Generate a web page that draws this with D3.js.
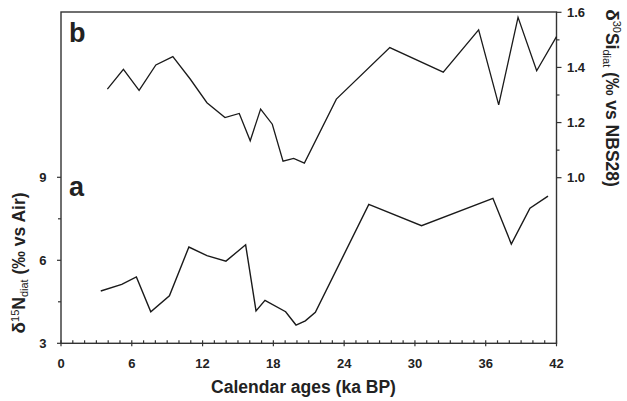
<!DOCTYPE html>
<html>
<head>
<meta charset="utf-8">
<script src="https://cdn.jsdelivr.net/npm/d3@7"></script>
<style>
  html, body { margin: 0; padding: 0; background: #fff; }
  svg { display: block; }
  text { font-family: "Liberation Sans", Arial, sans-serif; font-weight: bold; fill: #222; }
</style>
</head>
<body>
<svg id="chart" width="627" height="401"></svg>
<script>
// Panel b: diatom silicon isotopes (right axis)
const siAges   = [3.93, 5.29, 6.62, 8.04, 9.48, 10.95, 12.37, 13.9, 15.11, 16.04, 16.92, 17.91, 18.82, 19.72, 20.63, 23.34, 27.87, 32.4, 35.4, 37.1, 38.74, 40.32, 42.0];
const siValues = [1.321, 1.393, 1.317, 1.409, 1.439, 1.358, 1.272, 1.218, 1.233, 1.134, 1.249, 1.194, 1.060, 1.070, 1.053, 1.285, 1.472, 1.383, 1.536, 1.264, 1.582, 1.388, 1.512];

// Panel a: diatom nitrogen isotopes (left axis)
const nAges   = [3.37, 5.15, 6.39, 7.61, 9.19, 10.84, 12.37, 13.98, 15.65, 16.53, 17.29, 19.04, 19.92, 20.71, 21.56, 26.09, 30.56, 36.61, 38.17, 39.75, 41.28];
const nValues = [4.89, 5.13, 5.40, 4.14, 4.72, 6.48, 6.17, 5.97, 6.56, 4.17, 4.55, 4.14, 3.66, 3.81, 4.12, 8.02, 7.25, 8.24, 6.59, 7.88, 8.32];

const xTicks  = [0, 6, 12, 18, 24, 30, 36, 42];
const nTicks  = [3, 6, 9];
const nMinor  = [4.5, 7.5];
const siTicks = [1.0, 1.2, 1.4, 1.6];
const siMinor = [1.1, 1.3, 1.5];

const svg = d3.select("#chart");
const axisColor = "#333";

const x   = d3.scaleLinear().domain([0, 42]).range([61, 556.5]);
const yN  = d3.scaleLinear().domain([3, 9]).range([343.3, 177.3]);
const ySi = d3.scaleLinear().domain([1.0, 1.6]).range([177.7, 12.3]);

const frameTop = 12, frameBottom = 343.3;

// Frame
svg.append("rect")
  .attr("x", x(0)).attr("y", frameTop)
  .attr("width", x(42) - x(0)).attr("height", frameBottom - frameTop)
  .attr("fill", "none").attr("stroke", axisColor).attr("stroke-width", 1.4);

// Bottom axis: major ticks crossing the line, minor ticks every 1 ka inside
const xMinor = d3.range(0, 43, 1).filter(v => v % 6 !== 0);
const bx = svg.append("g").attr("stroke", axisColor).attr("stroke-width", 1.2);
bx.selectAll("line.maj").data(xTicks).join("line").attr("class", "maj")
  .attr("x1", d => x(d)).attr("x2", d => x(d))
  .attr("y1", frameBottom - 3).attr("y2", frameBottom + 3);
bx.selectAll("line.min").data(xMinor).join("line").attr("class", "min")
  .attr("x1", d => x(d)).attr("x2", d => x(d))
  .attr("y1", frameBottom - 3).attr("y2", frameBottom);
svg.append("g").selectAll("text").data(xTicks).join("text")
  .attr("x", d => x(d)).attr("y", 367.5)
  .attr("text-anchor", "middle").attr("font-size", 13)
  .text(d => d);
svg.append("text")
  .attr("x", 303.5).attr("y", 393)
  .attr("text-anchor", "middle").attr("font-size", 17.5)
  .text("Calendar ages (ka BP)");

// Left axis (δ15N)
const lx = svg.append("g").attr("stroke", axisColor).attr("stroke-width", 1.2);
lx.selectAll("line.maj").data(nTicks).join("line").attr("class", "maj")
  .attr("x1", x(0) - 4).attr("x2", x(0))
  .attr("y1", d => yN(d)).attr("y2", d => yN(d));
lx.selectAll("line.min").data(nMinor).join("line").attr("class", "min")
  .attr("x1", x(0) - 3).attr("x2", x(0))
  .attr("y1", d => yN(d)).attr("y2", d => yN(d));
svg.append("g").selectAll("text").data(nTicks).join("text")
  .attr("x", 46.5).attr("y", d => yN(d) + 4.6)
  .attr("text-anchor", "end").attr("font-size", 13)
  .text(d => d);
const ltitle = svg.append("text")
  .attr("transform", "translate(25,263) rotate(-90)")
  .attr("text-anchor", "middle").attr("font-size", 17.5);
ltitle.append("tspan").attr("font-size", 19).text("δ");
ltitle.append("tspan").attr("font-size", 11).attr("font-weight", "normal").attr("dy", -6.5).text("15");
ltitle.append("tspan").attr("dy", 6.5).text("N");
ltitle.append("tspan").attr("font-size", 11).attr("font-weight", "normal").attr("dy", 3).text("diat");
ltitle.append("tspan").attr("dy", -3).text(" (‰ vs Air)");

// Right axis (δ30Si)
const rx = svg.append("g").attr("stroke", axisColor).attr("stroke-width", 1.2);
rx.selectAll("line.maj").data(siTicks).join("line").attr("class", "maj")
  .attr("x1", x(42)).attr("x2", x(42) + 5)
  .attr("y1", d => ySi(d)).attr("y2", d => ySi(d));
rx.selectAll("line.min").data(siMinor).join("line").attr("class", "min")
  .attr("x1", x(42)).attr("x2", x(42) + 3)
  .attr("y1", d => ySi(d)).attr("y2", d => ySi(d));
svg.append("g").selectAll("text").data(siTicks).join("text")
  .attr("x", 567).attr("y", d => ySi(d) + 4.6)
  .attr("text-anchor", "start").attr("font-size", 13)
  .text(d => d.toFixed(1));
const rtitle = svg.append("text")
  .attr("transform", "translate(606,98) rotate(90)")
  .attr("text-anchor", "middle").attr("font-size", 17.5);
rtitle.append("tspan").attr("font-size", 19).text("δ");
rtitle.append("tspan").attr("font-size", 11).attr("font-weight", "normal").attr("dy", -6.5).text("30");
rtitle.append("tspan").attr("dy", 6.5).text("Si");
rtitle.append("tspan").attr("font-size", 11).attr("font-weight", "normal").attr("dy", 3).text("diat");
rtitle.append("tspan").attr("dy", -3).text(" (‰ vs NBS28)");

// Series lines
const lineN = d3.line().x((d, i) => x(nAges[i])).y(d => yN(d));
const lineSi = d3.line().x((d, i) => x(siAges[i])).y(d => ySi(d));
svg.append("path").datum(nValues).attr("d", lineN)
  .attr("fill", "none").attr("stroke", "#1a1a1a").attr("stroke-width", 1.4)
  .attr("stroke-linejoin", "miter");
svg.append("path").datum(siValues).attr("d", lineSi)
  .attr("fill", "none").attr("stroke", "#1a1a1a").attr("stroke-width", 1.3)
  .attr("stroke-linejoin", "miter");

// Panel letters
svg.append("text").attr("x", 69).attr("y", 42).attr("font-size", 27).text("b");
svg.append("text").attr("x", 69).attr("y", 196).attr("font-size", 27).text("a");
</script>
</body>
</html>
